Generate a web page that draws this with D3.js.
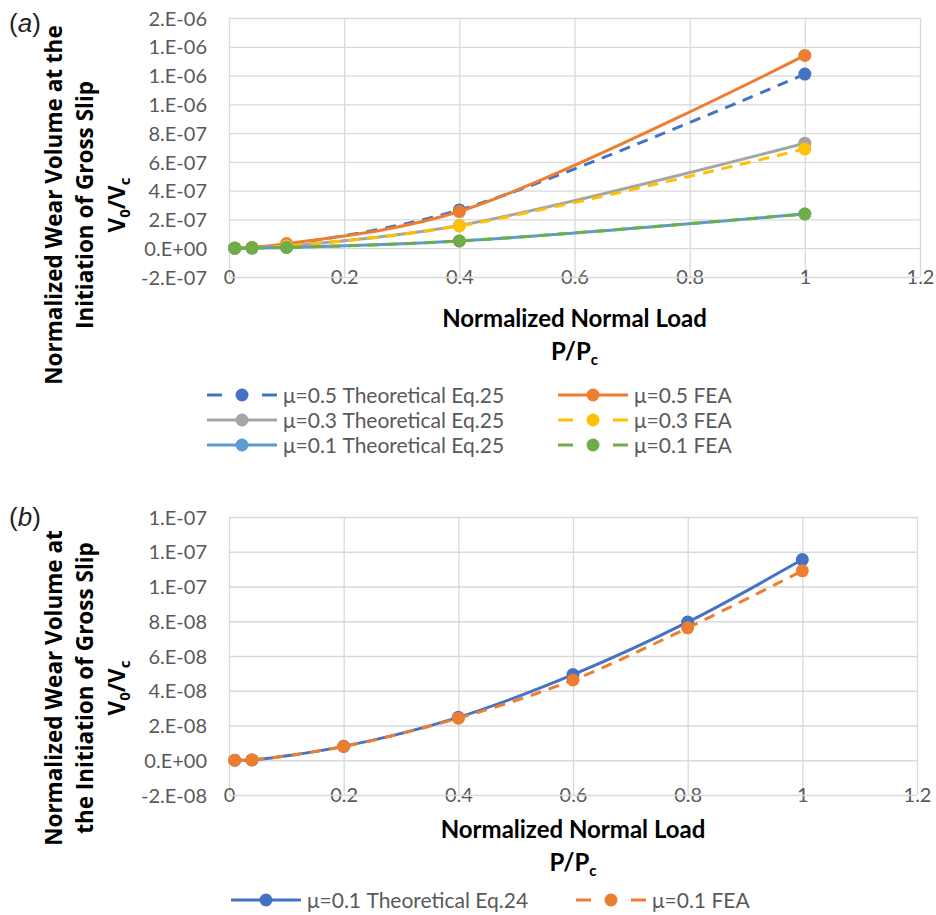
<!DOCTYPE html>
<html>
<head>
<meta charset="utf-8">
<script src="https://cdn.jsdelivr.net/npm/d3@7"></script>
<style>
  body { margin: 0; background: #fff; }
  svg { display: block; }
</style>
</head>
<body>
<svg id="chart" width="936" height="915"></svg>
<script>
// ---- data ----
// panel (a): P/Pc and V0/Vc for three friction coefficients
const loadA = [0.01, 0.04, 0.1, 0.4, 1]
const mu05Theo = [5e-10, 5e-9, 2.6e-8, 2.66e-7, 1.21e-6]
const mu05FEA = [1e-9, 6e-9, 3.2e-8, 2.55e-7, 1.34e-6]
const mu03Theo = [3e-10, 3e-9, 1.5e-8, 1.58e-7, 7.3e-7]
const mu03FEA = [5e-10, 3.5e-9, 1.6e-8, 1.55e-7, 6.9e-7]
const mu01Theo = [1e-10, 1e-9, 5e-9, 5.0e-8, 2.38e-7]
const mu01FEA = [1e-10, 1e-9, 5e-9, 5.0e-8, 2.38e-7]
const namesA = ["μ=0.5 Theoretical Eq.25", "μ=0.5 FEA", "μ=0.3 Theoretical Eq.25",
                "μ=0.3 FEA", "μ=0.1 Theoretical Eq.25", "μ=0.1 FEA"]

// panel (b): μ=0.1 only
const loadB = [0.01, 0.04, 0.2, 0.4, 0.6, 0.8, 1]
const mu01TheoEq24 = [1e-11, 2e-10, 8.0e-9, 2.47e-8, 4.93e-8, 7.95e-8, 1.155e-7]
const mu01FEAb = [1e-11, 2e-10, 7.9e-9, 2.42e-8, 4.62e-8, 7.62e-8, 1.09e-7]
const namesB = ["μ=0.1 Theoretical Eq.24", "μ=0.1 FEA"]

// axis ticks (labels as Excel printed them)
const xTicks = [0, 0.2, 0.4, 0.6, 0.8, 1, 1.2]
const xTickLabels = ["0", "0.2", "0.4", "0.6", "0.8", "1", "1.2"]
const yTicksA = [-2e-7, 0, 2e-7, 4e-7, 6e-7, 8e-7, 1e-6, 1.2e-6, 1.4e-6, 1.6e-6]
const yTickLabelsA = ["-2.E-07", "0.E+00", "2.E-07", "4.E-07", "6.E-07", "8.E-07",
                      "1.E-06", "1.E-06", "1.E-06", "2.E-06"]
const yTicksB = [-2e-8, 0, 2e-8, 4e-8, 6e-8, 8e-8, 1e-7, 1.2e-7, 1.4e-7]
const yTickLabelsB = ["-2.E-08", "0.E+00", "2.E-08", "4.E-08", "6.E-08", "8.E-08",
                      "1.E-07", "1.E-07", "1.E-07"]

// ---- styles ----
const BLUE = "#4472C4", ORANGE = "#ED7D31", GRAY = "#A5A5A5",
      GOLD = "#FFC000", LIGHTBLUE = "#5B9BD5", GREEN = "#70AD47"
const TICK_FONT = "Lato, 'Open Sans', sans-serif"
const GRID = "#d9d9d9"
const TXT = "#595959"

var svg = d3.select("#chart")
svg.append("rect").attr("width", 936).attr("height", 915).attr("fill", "#fff")

function drawPanel(opt) {
    var g = svg.append("g")
    var x = d3.scaleLinear().domain([0, 1.2]).range([opt.left, opt.right])
    var y = d3.scaleLinear()
        .domain([opt.yTicks[0], opt.yTicks[opt.yTicks.length - 1]])
        .range([opt.bottom, opt.top])

    // vertical grid + x labels sitting on the bottom line
    var xa = g.append("g")
        .attr("transform", "translate(0," + opt.bottom + ")")
        .call(d3.axisBottom(x).tickValues(xTicks)
            .tickSize(-(opt.bottom - opt.top))
            .tickFormat((d, i) => xTickLabels[i]))
    xa.select(".domain").remove()
    xa.selectAll("line").attr("stroke", GRID).attr("stroke-width", 1.3)
    xa.selectAll("text").attr("y", 0).attr("dy", "0.36em")
        .attr("fill", TXT).attr("font-size", 20).attr("font-family", TICK_FONT)

    // horizontal grid + y labels
    var ya = g.append("g")
        .attr("transform", "translate(" + opt.left + ",0)")
        .call(d3.axisLeft(y).tickValues(opt.yTicks)
            .tickSize(-(opt.right - opt.left))
            .tickPadding(22)
            .tickFormat((d, i) => opt.yLabels[i]))
    ya.select(".domain").remove()
    ya.selectAll("line").attr("stroke", GRID).attr("stroke-width", 1.3)
    ya.selectAll("text").attr("dy", "0.36em")
        .attr("fill", TXT).attr("font-size", 20).attr("font-family", TICK_FONT)

    // series: line then markers, in legend order
    var line = d3.line()
        .x(d => x(d[0])).y(d => y(d[1]))
        .curve(d3.curveCatmullRom.alpha(0.5))
    opt.series.forEach(s => {
        var pts = d3.zip(opt.load, s.values)
        var sg = g.append("g")
        sg.append("path").datum(pts)
            .attr("d", line)
            .attr("fill", "none")
            .attr("stroke", s.color)
            .attr("stroke-width", 3)
            .attr("stroke-dasharray", s.dashed ? "11,8" : null)
        sg.selectAll("circle").data(pts).enter().append("circle")
            .attr("cx", d => x(d[0])).attr("cy", d => y(d[1]))
            .attr("r", 6.5).attr("fill", s.color)
    })

    // panel letter
    var pl = svg.append("text").attr("x", 9).attr("y", opt.letterY)
        .attr("font-family", "'Liberation Sans', Arial, sans-serif")
        .attr("font-size", 26).attr("fill", "#222")
    pl.append("tspan").text("(")
    pl.append("tspan").attr("font-style", "italic").text(opt.letter)
    pl.append("tspan").text(")")

    // y title, three rotated lines
    var yt = opt.yTitle
    yt.forEach((t, i) => {
        var tx = svg.append("text")
            .attr("transform", "translate(" + opt.yTitleX[i] + "," + opt.yTitleY + ") rotate(-90)")
            .attr("text-anchor", "middle")
            .attr("font-family", "'Open Sans', sans-serif")
            .attr("font-weight", "bold").attr("font-size", 22.5).attr("fill", "#000")
        if (i < 2) {
            tx.text(t)
        } else {
            tx.append("tspan").text("V")
            tx.append("tspan").attr("font-size", 15).attr("dy", 5).text("0")
            tx.append("tspan").attr("dy", -5).text("/V")
            tx.append("tspan").attr("font-size", 15).attr("dy", 5).text("c")
        }
    })

    // x title
    var cx = (opt.left + opt.right) / 2
    svg.append("text").attr("x", cx).attr("y", opt.xTitleY)
        .attr("text-anchor", "middle").attr("font-family", TICK_FONT)
        .attr("font-weight", "bold").attr("font-size", 24).attr("fill", "#000")
        .text("Normalized Normal Load")
    var pp = svg.append("text").attr("x", cx).attr("y", opt.xTitleY + 33)
        .attr("text-anchor", "middle").attr("font-family", TICK_FONT)
        .attr("font-weight", "bold").attr("font-size", 24).attr("fill", "#000")
    pp.append("tspan").text("P/P")
    pp.append("tspan").attr("font-size", 15).attr("dy", 5).text("c")

    // legend
    var lg = svg.append("g")
    var items = lg.selectAll("g").data(opt.series).enter().append("g")
        .attr("transform", (d, i) => "translate(" + opt.legCols[i % 2] + "," +
            opt.legRows[Math.floor(i / 2)] + ")")
    items.append("line").attr("x1", 0).attr("x2", 70)
        .attr("stroke", d => d.color).attr("stroke-width", 3)
        .attr("stroke-dasharray", d => d.dashed ? "15,40,15" : null)
    items.append("circle").attr("cx", 35).attr("r", 6.5).attr("fill", d => d.color)
    items.append("text").attr("x", 76).attr("dy", "0.36em")
        .attr("font-family", TICK_FONT).attr("font-size", 21).attr("fill", TXT)
        .text(d => d.name)
}

drawPanel({
    left: 229, right: 920, top: 18, bottom: 277,
    load: loadA, yTicks: yTicksA, yLabels: yTickLabelsA,
    series: [
        { name: namesA[0], values: mu05Theo, color: BLUE, dashed: true },
        { name: namesA[1], values: mu05FEA, color: ORANGE, dashed: false },
        { name: namesA[2], values: mu03Theo, color: GRAY, dashed: false },
        { name: namesA[3], values: mu03FEA, color: GOLD, dashed: true },
        { name: namesA[4], values: mu01Theo, color: LIGHTBLUE, dashed: false },
        { name: namesA[5], values: mu01FEA, color: GREEN, dashed: true }
    ],
    letter: "a", letterY: 32,
    yTitle: ["Normalized Wear Volume at the", "Initiation of Gross Slip", "V0/Vc"],
    yTitleX: [62, 93, 125], yTitleY: 205,
    xTitleY: 327,
    legCols: [207, 558], legRows: [395, 420, 445]
})

drawPanel({
    left: 229, right: 917, top: 517, bottom: 795,
    load: loadB, yTicks: yTicksB, yLabels: yTickLabelsB,
    series: [
        { name: namesB[0], values: mu01TheoEq24, color: BLUE, dashed: false },
        { name: namesB[1], values: mu01FEAb, color: ORANGE, dashed: true }
    ],
    letter: "b", letterY: 526,
    yTitle: ["Normalized Wear Volume at", "the Initiation of  Gross Slip", "V0/Vc"],
    yTitleX: [62, 93, 125], yTitleY: 688,
    xTitleY: 838,
    legCols: [231, 576], legRows: [900]
})
</script>
</body>
</html>
